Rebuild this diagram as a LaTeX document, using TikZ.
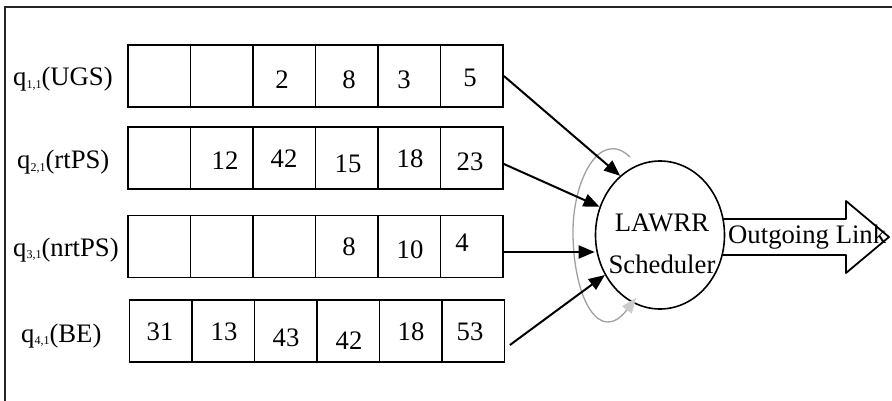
\documentclass[tikz,border=0pt]{standalone}
\usepackage{fontspec}
\setmainfont{Liberation Serif}
\usetikzlibrary{arrows.meta,shapes.geometric}
% small lowered index after the queue letter
\newcommand\qidx[1]{\raisebox{-2.5pt}{\fontsize{12}{12}\selectfont #1}}
\begin{document}
\begin{tikzpicture}[x=1pt,y=-1pt,
  frame/.style={line width=2pt,draw=black!85},
  cell/.style={draw,line width=1.8pt,minimum width=62.5pt,minimum height=62pt,inner sep=0pt},
  num/.style={inner sep=0pt,anchor=center,font=\fontsize{26.7}{30}\selectfont},
  lbl/.style={inner sep=0pt,anchor=base west,font=\fontsize{26.7}{30}\selectfont},
  word/.style={inner sep=0pt,anchor=base,font=\fontsize{26.7}{30}\selectfont},
  feed/.style={line width=2pt,-{Triangle[length=16pt,width=13pt]}},
  rotor/.style={line width=1.3pt,draw=gray!75,-{Triangle[length=15pt,width=12pt,color=gray!40]}},
  sched/.style={draw,ellipse,line width=1.6pt,minimum width=129pt,minimum height=148pt,inner sep=0pt}]
\useasboundingbox (0,0) rectangle (892,401);

% frame edges (top and left)
\draw[frame] (892,7) -- (5,7) -- (5,401);

% queue cells
\foreach \r/\y/\dx in {1/76/0,2/158/0,3/246.5/0,4/331/1.5}
  \foreach \c in {1,...,6}
    \node[cell] (r\r c\c) at ({128+\dx+62.5*(\c-0.5)},\y) {};

% queue names
\node[lbl] (q1) at (13,86)  {q\qidx{1,1}(UGS)};
\node[lbl] (q2) at (17,169) {q\qidx{2,1}(rtPS)};
\node[lbl] (q3) at (13,256) {q\qidx{3,1}(nrtPS)};
\node[lbl] (q4) at (21,342) {q\qidx{4,1}(BE)};

% queue contents
\node[num] (n13) at (282,80) {2};
\node[num] (n14) at (349,80) {8};
\node[num] (n15) at (404,80) {3};
\node[num] (n16) at (470,78) {5};
\node[num] (n22) at (225,161) {12};
\node[num] (n23) at (284,159) {42};
\node[num] (n24) at (348,164) {15};
\node[num] (n25) at (410,159) {18};
\node[num] (n26) at (470,162) {23};
\node[num] (n34) at (349,247) {8};
\node[num] (n35) at (410,250) {10};
\node[num] (n36) at (462,243) {4};
\node[num] (n41) at (160,332) {31};
\node[num] (n42) at (224,332) {13};
\node[num] (n43) at (286,338) {43};
\node[num] (n44) at (349,341) {42};
\node[num] (n45) at (411,332) {18};
\node[num] (n46) at (470,332) {53};

% scheduler
\node[sched] (sched) at (660,235) {};
\node[word] (lawrr) at (662,231) {LAWRR};
\node[word] (schedword) at (662,273) {Scheduler};

% round-robin rotation
\draw[rotor] (630,157) .. controls (600,128) and (572,180) .. (573,235)
  .. controls (574,300) and (600,345) .. (636,298);

% queue feeds into the scheduler
\draw[feed] (r1c6.east) -- (sched.124);
\draw[feed] ([yshift=-6pt]r2c6.east) -- (sched.155.5);
\coordinate (s3) at ([yshift=-5.5pt]r3c6.east);
\draw[feed] (s3) -- (s3 -| sched.west);
\draw[feed] ([xshift=4.5pt,yshift=-14pt]r4c6.east) -- (sched.216);

% outgoing link block arrow
\draw[line width=1.8pt,line join=round] (723,219) -- (846,219) -- (846,201) -- (889,237)
  -- (846,273) -- (846,255) -- (723,255);
\node[lbl] (outtxt) at (728,243) {Outgoing Link};
\end{tikzpicture}
\end{document}
